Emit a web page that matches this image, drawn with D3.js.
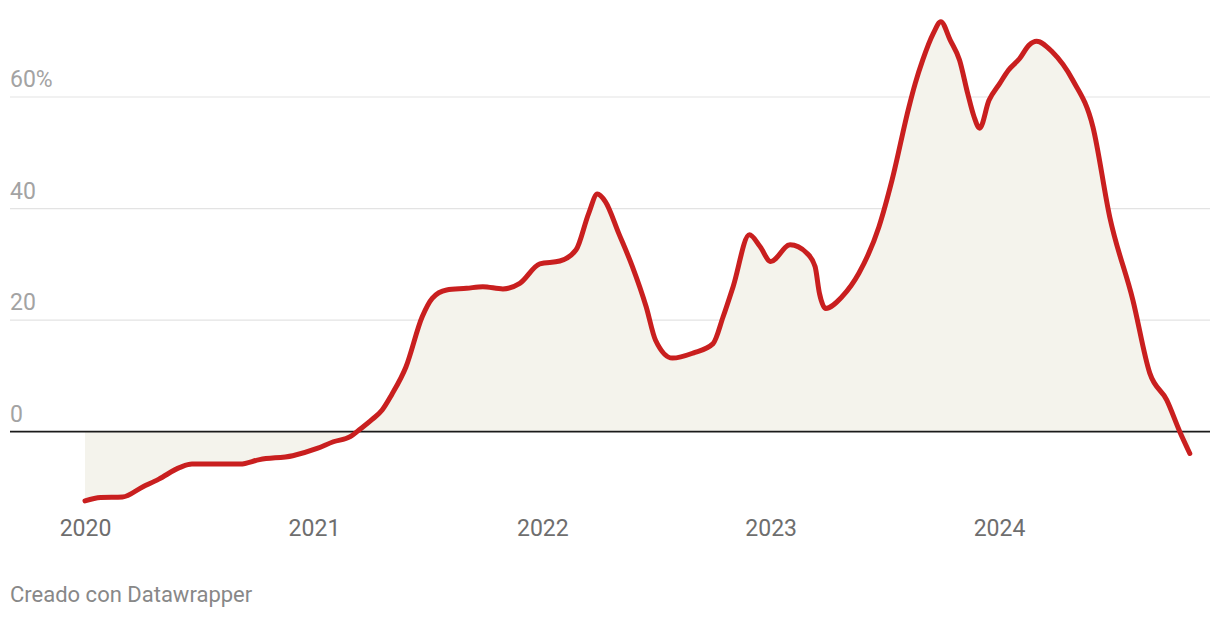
<!DOCTYPE html>
<html><head><meta charset="utf-8">
<script src="https://cdn.jsdelivr.net/npm/d3@7"></script>
<style>
html,body{margin:0;padding:0;background:#fff;}
svg{display:block;font-family:Roboto,"Noto Sans",sans-serif;}
</style></head>
<body><svg id="c" width="1220" height="618"></svg>
<script>
const dates = ["2020-01-01","2020-01-26","2020-03-01","2020-04-02","2020-04-28","2020-06-01","2020-06-20","2020-09-05","2020-10-06","2020-11-28",
"2021-01-06","2021-02-01","2021-02-28","2021-03-14","2021-04-04","2021-04-20","2021-05-05","2021-05-28","2021-06-23","2021-07-09","2021-08-01","2021-09-02","2021-09-28","2021-10-30","2021-11-26","2021-12-28",
"2022-01-29","2022-02-24","2022-03-16","2022-03-30","2022-04-12","2022-05-03","2022-05-25","2022-06-16","2022-07-01","2022-07-28","2022-08-30","2022-10-01","2022-10-17","2022-11-02","2022-11-28","2022-12-15",
"2023-01-01","2023-02-01","2023-02-28","2023-03-13","2023-03-20","2023-03-30","2023-04-25","2023-05-22","2023-06-23","2023-07-14","2023-08-10","2023-08-20","2023-09-01","2023-09-18","2023-09-30","2023-10-15","2023-10-30","2023-11-12","2023-11-22","2023-12-01","2023-12-16",
"2024-01-02","2024-01-16","2024-02-03","2024-02-18","2024-03-01","2024-03-26","2024-04-28","2024-05-30","2024-06-26","2024-08-02","2024-08-29","2024-09-25","2024-10-16","2024-11-01"];
const values = [-12.4,-11.8,-11.7,-9.9,-8.5,-6.4,-5.8,-5.8,-5.0,-4.3,
-3.0,-1.8,-0.9,0.3,2.2,3.9,6.6,11.6,20.6,23.9,25.4,25.7,26.0,25.6,26.6,30.1,
30.6,32.6,39.1,42.6,41.2,35.6,29.6,22.4,16.4,13.2,14.1,15.8,20.6,26.0,35.3,33.2,
30.5,33.5,32.0,29.6,24.8,22.1,24.2,28.4,36.7,45.1,58.2,62.4,66.6,71.4,73.5,70.2,66.6,60.6,56.5,54.4,59.4,
62.4,64.8,66.9,69.3,70.0,68.1,63.0,54.7,38.5,23.6,10.5,5.7,0,-3.9];
const yTicks = [0,20,40,60];
const xTicks = ["2020","2021","2022","2023","2024"];
const credit = "Creado con Datawrapper";

const parse = d3.timeParse("%Y-%m-%d");
const data = dates.map((d,i)=>({date:parse(d), v:values[i]}));

const svg = d3.select("#c");
const x = d3.scaleTime().domain([parse("2020-01-01"), parse("2024-01-01")]).range([85, 999]);
const y = d3.scaleLinear().domain([0,60]).range([431.7, 97]);
const left = 10, right = 1210;

// gridlines
svg.append("g").selectAll("line").data(yTicks.filter(t=>t!==0)).join("line")
  .attr("x1",left).attr("x2",right)
  .attr("y1",d=>y(d)).attr("y2",d=>y(d))
  .attr("stroke","#e3e3e3").attr("stroke-width",1.2);

// area
const area = d3.area().x(d=>x(d.date)).y0(y(0)).y1(d=>y(d.v)).curve(d3.curveMonotoneX);
svg.append("path").datum(data).attr("d",area).attr("fill","#f4f3ec");

// zero line
svg.append("line").attr("x1",left).attr("x2",right).attr("y1",y(0)).attr("y2",y(0))
  .attr("stroke","#1a1a1a").attr("stroke-width",1.8);

// y labels
svg.append("g").selectAll("text").data(yTicks).join("text")
  .attr("x",left).attr("y",d=>y(d)-10)
  .attr("fill","#a3a3a3").attr("font-size",23)
  .text(d=> d===60 ? d+"%" : d);

// line
const line = d3.line().x(d=>x(d.date)).y(d=>y(d.v)).curve(d3.curveMonotoneX);
svg.append("path").datum(data).attr("d",line).attr("fill","none")
  .attr("stroke","#c91f1f").attr("stroke-width",5)
  .attr("stroke-linecap","round").attr("stroke-linejoin","round");

// x labels
const xa = d3.axisBottom(x).tickValues(xTicks.map(t=>parse(t+"-01-01"))).tickFormat(d3.timeFormat("%Y")).tickSize(0);
const gx = svg.append("g").attr("transform","translate(0,517)").call(xa);
gx.select(".domain").remove();
gx.selectAll("text").attr("fill","#6e6e6e").attr("font-size",23).attr("font-family","Roboto");

svg.append("text").attr("x",left).attr("y",602).attr("fill","#888").attr("font-size",22).text(credit);
</script></body></html>
